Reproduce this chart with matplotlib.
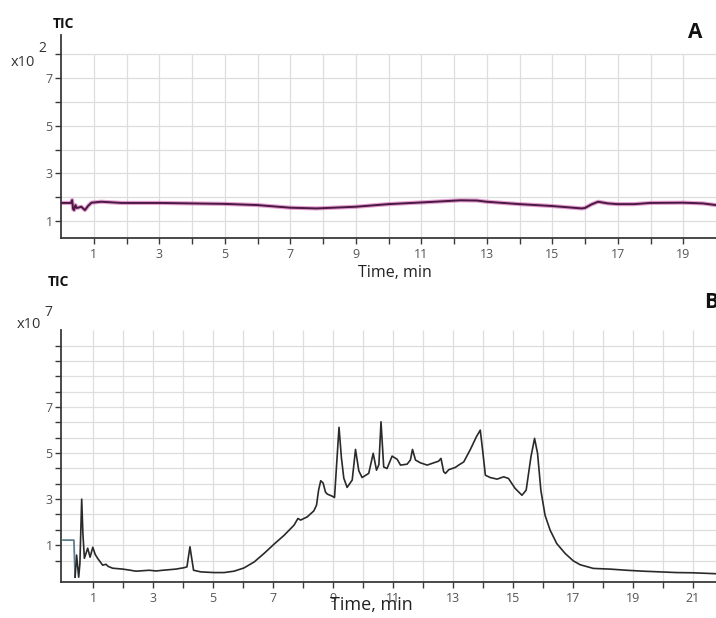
import matplotlib
matplotlib.use("Agg")
import matplotlib.pyplot as plt
import numpy as np

plt.rcParams['font.family'] = ['Open Sans', 'DejaVu Sans']

# Panel A: blank run, TIC in units of 10^2
time_a = [0.0, 0.3, 0.34, 0.37, 0.40, 0.44, 0.48, 0.52, 0.62, 0.73, 0.83, 0.93,
          1.23, 1.85, 3.0, 5.0, 6.0, 7.0, 7.8, 9.0, 10.0, 11.0, 12.2, 12.7,
          13.0, 14.0, 15.0, 15.9, 16.0, 16.2, 16.4, 16.7, 17.0, 17.5, 18.0,
          19.0, 19.6, 20.0]
tic_a = [1.76, 1.76, 1.88, 1.50, 1.46, 1.67, 1.55, 1.56, 1.60, 1.46, 1.64, 1.77,
         1.81, 1.76, 1.76, 1.72, 1.67, 1.56, 1.53, 1.60, 1.71, 1.78, 1.87, 1.86,
         1.81, 1.71, 1.63, 1.53, 1.55, 1.70, 1.81, 1.74, 1.71, 1.71, 1.76,
         1.77, 1.74, 1.67]

# Panel B: sample run, TIC in units of 10^7
time_b = [0.0, 0.36, 0.40, 0.45, 0.52, 0.56, 0.62, 0.66, 0.71, 0.82, 0.90, 0.99,
          1.07, 1.15, 1.32, 1.43, 1.50, 1.65, 1.99, 2.2, 2.43, 2.87, 3.1, 3.32,
          3.76, 4.03, 4.13, 4.18, 4.23, 4.28, 4.35, 4.59, 5.03, 5.37, 5.7, 6.03,
          6.37, 6.7, 7.03, 7.37, 7.7, 7.83, 7.92, 8.14, 8.36, 8.45, 8.52, 8.59,
          8.67, 8.75, 8.81, 8.97, 9.05, 9.12, 9.2, 9.28, 9.36, 9.47, 9.64, 9.75,
          9.86, 9.97, 10.19, 10.34, 10.45, 10.53, 10.6, 10.69, 10.8, 10.97,
          11.14, 11.25, 11.47, 11.58, 11.65, 11.75, 11.91, 12.14, 12.36, 12.52,
          12.6, 12.69, 12.75, 12.86, 12.97, 13.08, 13.19, 13.36, 13.58, 13.78,
          13.91, 14.0, 14.08, 14.24, 14.47, 14.69, 14.85, 15.07, 15.3, 15.44,
          15.6, 15.72, 15.82, 15.93, 16.07, 16.24, 16.46, 16.74, 17.01, 17.24,
          17.68, 18.24, 18.79, 19.34, 19.9, 20.45, 21.0, 21.77]
tic_b = [1.22, 1.22, -0.39, 0.57, -0.39, 0.2, 3.0, 1.5, 0.43, 0.87, 0.48, 0.91,
         0.6, 0.43, 0.13, 0.17, 0.08, 0.0, -0.04, -0.08, -0.13, -0.09, -0.12, -0.09,
         -0.04, 0.02, 0.06, 0.5, 0.93, 0.5, -0.09, -0.16, -0.19, -0.19, -0.13, 0.01,
         0.27, 0.64, 1.04, 1.43, 1.87, 2.16, 2.09, 2.23, 2.49, 2.74, 3.4, 3.8,
         3.7, 3.3, 3.22, 3.13, 3.07, 4.5, 6.12, 4.8, 3.91, 3.51, 3.83, 5.16,
         4.23, 3.94, 4.12, 4.99, 4.26, 4.5, 6.36, 4.4, 4.33, 4.87,
         4.73, 4.48, 4.52, 4.7, 5.16, 4.7, 4.58, 4.48, 4.58, 4.65,
         4.77, 4.19, 4.12, 4.28, 4.33, 4.38, 4.48, 4.62, 5.16, 5.71,
         6.0, 4.99, 4.04, 3.94, 3.87, 3.97, 3.9, 3.47, 3.17, 3.39,
         4.84, 5.64, 4.99, 3.39, 2.3, 1.65, 1.07, 0.64, 0.32, 0.15,
         -0.01, -0.04, -0.09, -0.13, -0.16, -0.19, -0.2, -0.24]

yticks_a = [1, 2, 3, 4, 5, 6, 7, 8]
ylabels_a = ['1', '', '3', '', '5', '', '7', '']
yticks_b = [1 + k * 2 / 3 for k in range(-1, 14)]
ylabels_b = ['1' if abs(t - 1) < 1e-6 else '3' if abs(t - 3) < 1e-6 else
             '5' if abs(t - 5) < 1e-6 else '7' if abs(t - 7) < 1e-6 else ''
             for t in yticks_b]

grid_col = '#dedede'
axis_col = '#3a3a3a'
label_col = '#555555'

fig = plt.figure(figsize=(7.16, 6.18), dpi=100)


def style_axis(ax, xticks, yticks, ylabels):
    ax.spines['top'].set_visible(False)
    ax.spines['right'].set_visible(False)
    for s in ['left', 'bottom']:
        ax.spines[s].set_color(axis_col)
        ax.spines[s].set_linewidth(1.3)
    ax.set_xticks(xticks)
    ax.set_xticklabels([str(t) if t % 2 == 1 else '' for t in xticks])
    ax.set_yticks(yticks)
    ax.set_yticklabels(ylabels)
    ax.tick_params(axis='both', direction='out', length=4, width=1,
                   color=axis_col, labelcolor=label_col, labelsize=9)
    ax.tick_params(axis='x', pad=3)
    ax.tick_params(axis='y', pad=2)


# ---- Panel A ----
axA = fig.add_axes([61 / 716, 1 - 238 / 618, 655 / 716, 203 / 618])
axA.set_xlim(0, 20)
axA.set_ylim(0.29, 8.8)
xt_a = list(range(1, 20))
for y in yticks_a:
    axA.axhline(y, color=grid_col, lw=0.9, zorder=0)
axA.vlines(xt_a, 0.29, 8, color=grid_col, lw=0.9, zorder=0)
axA.plot(time_a, tic_a, color='#d050b0', lw=3.0, alpha=0.55, zorder=2)
axA.plot(time_a, tic_a, color='#4a1840', lw=1.4, zorder=3)
style_axis(axA, xt_a, yticks_a, ylabels_a)

fig.text(53 / 716, 1 - 24 / 618, 'TIC', fontsize=10, fontweight='bold',
         va='center', ha='left', color='#111111')
fig.text(11 / 716, 1 - 62 / 618, 'x10', fontsize=10.5, va='center', ha='left',
         color='#333333')
fig.text(38 / 716, 1 - 48 / 618, '2', fontsize=10, va='center', ha='left',
         color='#333333')
fig.text(688 / 716, 1 - 33 / 618, 'A', fontsize=15, fontweight='bold',
         va='center', ha='left', color='#111111')
fig.text(395 / 716, 1 - 273 / 618, 'Time, min', fontsize=11.5, va='center',
         ha='center', color='#222222')

# ---- Panel B ----
axB = fig.add_axes([61 / 716, 1 - 582 / 618, 655 / 716, 252 / 618])
axB.set_xlim(-0.07, 21.77)
axB.set_ylim(-0.6, 10.35)
xt_b = list(range(1, 22))
for y in yticks_b:
    axB.axhline(y, color=grid_col, lw=0.9, zorder=0)
axB.vlines(xt_b, -0.6, 10.35, color=grid_col, lw=0.9, zorder=0)
axB.plot(time_b[:3], tic_b[:3], color='#5f7f8a', lw=1.3, zorder=3)
axB.plot(time_b[2:], tic_b[2:], color='#2a2a2a', lw=1.2, zorder=3)
style_axis(axB, xt_b, yticks_b, ylabels_b)

fig.text(48 / 716, 1 - 282 / 618, 'TIC', fontsize=10, fontweight='bold',
         va='center', ha='left', color='#111111')
fig.text(17 / 716, 1 - 325 / 618, 'x10', fontsize=10.5, va='center', ha='left',
         color='#333333')
fig.text(44 / 716, 1 - 312 / 618, '7', fontsize=10, va='center', ha='left',
         color='#333333')
fig.text(704 / 716, 1 - 302 / 618, 'B', fontsize=15, fontweight='bold',
         va='center', ha='left', color='#111111')
fig.text(371 / 716, 1 - 605 / 618, 'Time, min', fontsize=13, va='center',
         ha='center', color='#222222')

fig.savefig('out.png', dpi=100, facecolor='white')
